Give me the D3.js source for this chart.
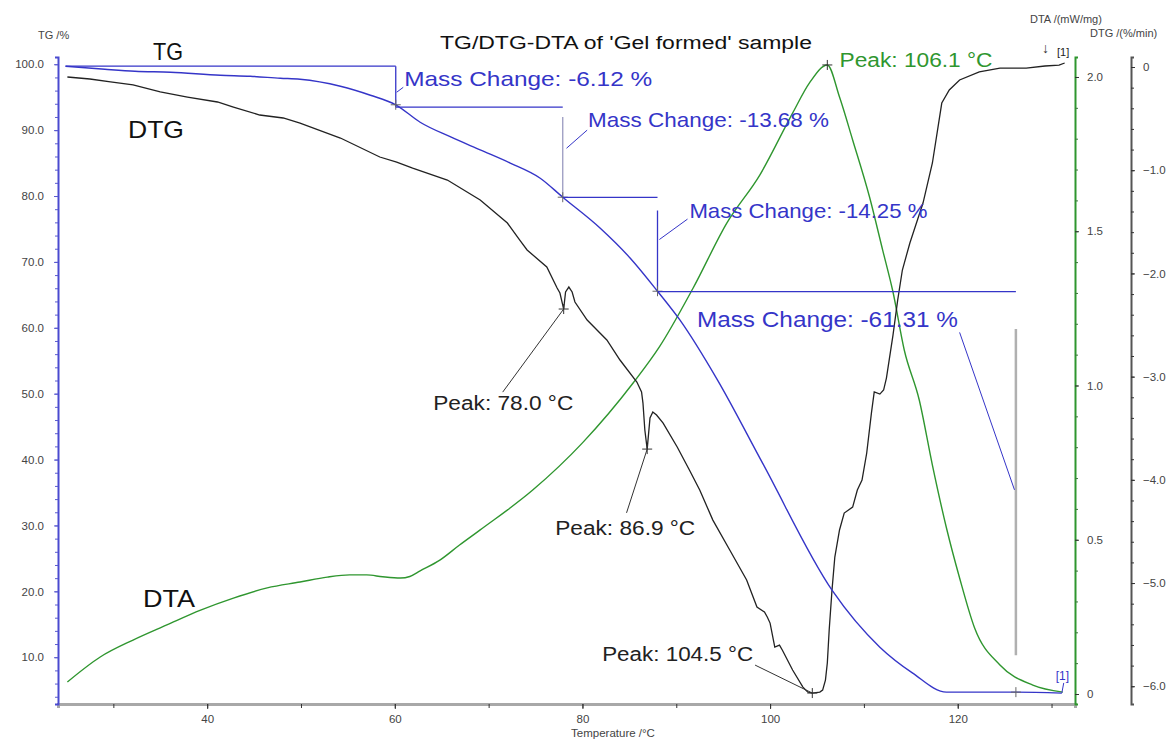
<!DOCTYPE html>
<html><head><meta charset="utf-8">
<script src="https://cdn.jsdelivr.net/npm/d3@7"></script>
<style>
body{margin:0;background:#fff;}
svg{display:block;font-family:"Liberation Sans",Arial,sans-serif;}
</style>
</head><body>
<svg id="c" width="1174" height="742"></svg>
<script>
// ---------------- DATA ----------------
const tgTemp  = [24.9, 29.1, 32.3, 36.1, 41.4, 44.6, 47.8, 49.9, 54.2, 57.4, 60.1, 62.7, 65.9, 69.1, 72.3, 75.5, 77.9, 81.9, 85.1, 88.0, 90.4, 94.4, 99.2, 106.6, 111.7, 115.2, 118.8, 126.1, 131.1];
const tgValue = [99.70, 99.24, 98.94, 98.79, 98.33, 98.18, 97.88, 97.72, 96.66, 95.30, 93.85, 91.20, 89.00, 87.00, 85.00, 82.70, 79.82, 75.11, 70.56, 65.55, 61.15, 52.05, 39.45, 20.18, 11.53, 7.59, 4.70, 4.70, 4.55];

const dtgTemp  = [25.1, 27.5, 29.7, 32.1, 35.0, 37.9, 41.1, 42.8, 45.6, 48.1, 49.9, 54.2, 58.4, 60.2, 61.9, 65.6, 69.1, 72.0, 73.3, 74.1, 76.2, 77.3, 77.6, 78.0, 78.2, 78.55, 78.9, 79.2, 80.5, 82.6, 84.0, 85.8, 86.3, 86.45, 86.65, 86.9, 87.2, 87.5, 87.9, 88.6, 90.1, 91.4, 92.5, 93.9, 95.7, 97.5, 98.6, 99.4, 99.7, 100.0, 100.5, 101.0, 101.3, 102.4, 103.5, 104.0, 104.5, 105.3, 105.6, 105.9, 106.1, 106.3, 106.6, 106.9, 107.4, 107.9, 108.8, 109.3, 109.8, 110.3, 110.8, 111.1, 111.7, 112.1, 112.4, 113.1, 113.6, 114.1, 114.9, 116.3, 117.3, 118.3, 119.1, 120.2, 122.3, 124.5, 127.3, 129.3, 130.8, 131.4];
const dtgValue = [-0.097, -0.116, -0.145, -0.174, -0.242, -0.291, -0.339, -0.388, -0.465, -0.494, -0.543, -0.688, -0.872, -0.921, -0.979, -1.095, -1.289, -1.512, -1.676, -1.773, -1.938, -2.141, -2.190, -2.345, -2.180, -2.132, -2.180, -2.277, -2.452, -2.645, -2.839, -3.052, -3.149, -3.256, -3.517, -3.702, -3.401, -3.343, -3.372, -3.450, -3.682, -3.905, -4.099, -4.390, -4.680, -4.971, -5.233, -5.281, -5.329, -5.388, -5.620, -5.601, -5.649, -5.843, -6.008, -6.056, -6.066, -6.056, -6.037, -5.940, -5.775, -5.455, -5.068, -4.748, -4.486, -4.322, -4.264, -4.099, -4.002, -3.740, -3.353, -3.149, -3.169, -3.130, -3.014, -2.597, -2.258, -1.967, -1.705, -1.318, -0.930, -0.349, -0.223, -0.126, -0.048, -0.010, -0.010, 0.010, 0.019, 0.039];

const dtaTemp  = [25.1, 28.6, 32.1, 35.7, 39.3, 42.8, 46.4, 49.9, 52.8, 55.2, 57.0, 58.7, 60.6, 61.6, 62.7, 64.8, 66.9, 69.1, 74.7, 80.0, 85.4, 88.2, 91.8, 95.4, 98.9, 102.4, 104.2, 106.1, 107.4, 108.8, 110.6, 112.0, 113.1, 114.3, 115.9, 117.3, 118.8, 120.2, 121.8, 124.5, 128.0, 131.2];
const dtaValue = [0.039, 0.120, 0.175, 0.224, 0.272, 0.311, 0.344, 0.363, 0.379, 0.386, 0.386, 0.380, 0.376, 0.381, 0.399, 0.434, 0.483, 0.532, 0.661, 0.814, 1.008, 1.125, 1.316, 1.527, 1.682, 1.883, 1.981, 2.039, 1.935, 1.796, 1.611, 1.439, 1.303, 1.115, 0.953, 0.742, 0.538, 0.376, 0.214, 0.094, 0.029, 0.006];

const xMajorTicks = [40, 60, 80, 100, 120];
const tgMajorTicks = [10, 20, 30, 40, 50, 60, 70, 80, 90, 100];
const dtaMajorTicks = [0, 0.5, 1.0, 1.5, 2.0];
const dtgMajorTicks = [0, -1, -2, -3, -4, -5, -6];

// mass-change step annotations (TG units)
const massLabels     = ["Mass Change: -6.12 %", "Mass Change: -13.68 %", "Mass Change: -14.25 %", "Mass Change: -61.31 %"];
const massStepStartT = [24.9, 60.1, 77.9, 88.0];
const massStepT      = [60.1, 77.9, 88.0, 126.2];
const massLevel      = [99.7, 93.5, 79.8, 65.5];
const massVertTop    = [99.7, 92.0, 77.8, 59.8];
const massVertBottom = [93.5, 79.8, 65.5, 10.3];
const massPointTG    = [93.85, 79.82, 65.55, 4.70];
const massLabelT     = [61.0, 80.6, 91.4, 92.2];
const massLabelTG    = [96.7, 90.4, 76.6, 60.1];
const massLeadFromT  = [60.2, 78.3, 88.2, 120.2];
const massLeadFromTG = [95.75, 87.25, 73.4, 59.3];
const massLeadToT    = [60.9, 80.5, 91.2, 126.05];
const massLeadToTG   = [96.5, 90.0, 76.5, 35.4];

// DTG peak annotations
const peakLabels   = ["Peak: 78.0 °C", "Peak: 86.9 °C", "Peak: 104.5 °C"];
const peakT        = [78.0, 86.9, 104.5];
const peakDTG      = [-2.345, -3.702, -6.066];
const peakLabelT   = [64.1, 77.1, 82.1];
const peakLabelDTG = [-3.32, -4.535, -5.756];
const peakLeadT    = [71.5, 84.7, 98.4];
const peakLeadDTG  = [-3.15, -4.32, -5.795];

// DTA peak
const dtaPeakLabel = "Peak: 106.1 °C";
const dtaPeakT = 106.1, dtaPeakValue = 2.039, dtaPeakLabelT = 107.4;

// ---------------- CHART ----------------
const svg = d3.select("#c");
const BLUE = "#3535c8", GREEN = "#2f962f", DARK = "#222";

const x     = d3.scaleLinear().domain([24.1, 132.5]).range([58, 1075]);
const yTG   = d3.scaleLinear().domain([2.9, 101.1]).range([704, 57]);
const yDTA  = d3.scaleLinear().domain([-0.0324, 2.0648]).range([704, 57]);
const yDTG  = d3.scaleLinear().domain([-6.172, 0.097]).range([704, 57]);

function txt(g, px, py, s, size, color, width, anchor) {
  const t = g.append("text").attr("x", px).attr("y", py).text(s)
    .attr("font-size", size).attr("fill", color);
  if (anchor) t.attr("text-anchor", anchor);
  if (width) t.attr("textLength", width).attr("lengthAdjust", "spacingAndGlyphs");
  return t;
}
function cross(px, py, color) {
  svg.append("path").attr("d", `M${px-5},${py}H${px+5}M${px},${py-5}V${py+5}`)
    .attr("stroke", color).attr("stroke-width", 1);
}

function styleAxis(g, lineColor, lineW, textColor) {
  g.select(".domain").attr("stroke", lineColor).attr("stroke-width", lineW);
  g.selectAll(".tick line").attr("stroke", "#333");
  g.selectAll("text").attr("fill", textColor).attr("font-size", 11.5).attr("font-family", "Liberation Sans, Arial, sans-serif");
}
// bottom
const gxMinor = svg.append("g").attr("transform", "translate(0,704)")
  .call(d3.axisBottom(x).tickValues(d3.range(30, 131, 10)).tickSize(4).tickFormat(""));
styleAxis(gxMinor, "#a8a8a8", 3, "#444");
const gx = svg.append("g").attr("transform", "translate(0,704)")
  .call(d3.axisBottom(x).tickValues(xMajorTicks).tickSize(5).tickPadding(6).tickFormat(d3.format("d")));
styleAxis(gx, "none", 0, "#444");
gx.select(".domain").remove();

// left TG
const gyMinor = svg.append("g").attr("transform", "translate(58,0)")
  .call(d3.axisLeft(yTG).tickValues(d3.range(4, 101, 2)).tickSize(3).tickFormat(""));
styleAxis(gyMinor, "#4a4ad0", 2, "#444");
gyMinor.selectAll(".tick line").attr("stroke", "#5a5ad0");
const gy = svg.append("g").attr("transform", "translate(58,0)")
  .call(d3.axisLeft(yTG).tickValues(tgMajorTicks).tickSize(4).tickPadding(10).tickFormat(d3.format(".1f")));
styleAxis(gy, "none", 0, "#444");
gy.select(".domain").remove();
gy.selectAll(".tick line").attr("stroke", "#5a5ad0");

// right DTA
const gaMinor = svg.append("g").attr("transform", "translate(1075,0)")
  .call(d3.axisRight(yDTA).tickValues(d3.range(0, 20.5, 1).map(d => d / 10)).tickSize(3).tickFormat(""));
styleAxis(gaMinor, GREEN, 2, "#444");
gaMinor.selectAll(".tick line").attr("stroke", "#3a7a3a");
const ga = svg.append("g").attr("transform", "translate(1075,0)")
  .call(d3.axisRight(yDTA).tickValues(dtaMajorTicks).tickSize(4).tickPadding(8).tickFormat(d => d === 0 ? "0" : d3.format(".1f")(d)));
styleAxis(ga, "none", 0, "#444");
ga.select(".domain").remove();

// right DTG
const gdMinor = svg.append("g").attr("transform", "translate(1131,0)")
  .call(d3.axisRight(yDTG).tickValues(d3.range(0, 31, 1).map(d => -d / 5)).tickSize(3).tickFormat(""));
styleAxis(gdMinor, "#555", 2, "#444");
const gd = svg.append("g").attr("transform", "translate(1131,0)")
  .call(d3.axisRight(yDTG).tickValues(dtgMajorTicks).tickSize(4).tickPadding(8).tickFormat(d => d === 0 ? "0" : d3.format(".1f")(d)));
styleAxis(gd, "none", 0, "#444");
gd.select(".domain").remove();

// axis titles
txt(svg, 38, 39, "TG /%", 11, "#444");
txt(svg, 1030, 23, "DTA /(mW/mg)", 11, "#444");
txt(svg, 1090, 37, "DTG /(%/min)", 11, "#444");
txt(svg, 1042, 53, "↓", 14, "#333");
txt(svg, 1057, 56, "[1]", 11, "#222");
txt(svg, 613, 737, "Temperature /°C", 11.5, "#444", null, "middle");

// title
txt(svg, 440, 49, "TG/DTG-DTA of 'Gel formed' sample", 18, "#111", 372);

// curves
const lineDTA = d3.line().x((d, i) => x(dtaTemp[i])).y(d => yDTA(d)).curve(d3.curveMonotoneX);
svg.append("path").datum(dtaValue).attr("d", lineDTA).attr("fill", "none").attr("stroke", GREEN).attr("stroke-width", 1.4);

const lineDTG = d3.line().x((d, i) => x(dtgTemp[i])).y(d => yDTG(d));
svg.append("path").datum(dtgValue).attr("d", lineDTG).attr("fill", "none").attr("stroke", DARK).attr("stroke-width", 1.3);

const lineTG = d3.line().x((d, i) => x(tgTemp[i])).y(d => yTG(d)).curve(d3.curveMonotoneX);
svg.append("path").datum(tgValue).attr("d", lineTG).attr("fill", "none").attr("stroke", BLUE).attr("stroke-width", 1.4);

// curve labels
txt(svg, 153, 60, "TG", 24, "#111", 30);
txt(svg, 128, 138, "DTG", 24, "#111", 56);
txt(svg, 143, 607, "DTA", 24, "#111", 52);

// mass change annotations
const vertColors = [BLUE, "#9a9ac0", BLUE, "#b0b0b0"];
const massWidths = [248, 241, 238, 261];
const massSizes = [21, 21, 21, 22];
massLabels.forEach((lab, i) => {
  svg.append("line").attr("x1", x(massStepStartT[i])).attr("x2", x(massStepT[i]))
    .attr("y1", yTG(massLevel[i])).attr("y2", yTG(massLevel[i])).attr("stroke", BLUE).attr("stroke-width", 1.3);
  svg.append("line").attr("x1", x(massStepT[i])).attr("x2", x(massStepT[i]))
    .attr("y1", yTG(massVertTop[i])).attr("y2", yTG(massVertBottom[i]))
    .attr("stroke", vertColors[i]).attr("stroke-width", i === 3 ? 2.5 : 1.3);
  svg.append("line").attr("x1", x(massLeadFromT[i])).attr("y1", yTG(massLeadFromTG[i]))
    .attr("x2", x(massLeadToT[i])).attr("y2", yTG(massLeadToTG[i])).attr("stroke", BLUE).attr("stroke-width", 1);
  cross(x(massStepT[i]), yTG(massPointTG[i]), "#666");
  txt(svg, x(massLabelT[i]), yTG(massLabelTG[i]), lab, massSizes[i], BLUE, massWidths[i]);
});
// end marker [1]
txt(svg, x(130.45), yTG(6.5), "[1]", 12, BLUE);
svg.append("line").attr("x1", x(131.3)).attr("y1", yTG(6.1)).attr("x2", x(131.1)).attr("y2", yTG(4.6)).attr("stroke", BLUE);

// peak annotations
const peakWidths = [140, 140, 151];
peakLabels.forEach((lab, i) => {
  cross(x(peakT[i]), yDTG(peakDTG[i]), "#333");
  svg.append("line").attr("x1", x(peakT[i])).attr("y1", yDTG(peakDTG[i]))
    .attr("x2", x(peakLeadT[i])).attr("y2", yDTG(peakLeadDTG[i])).attr("stroke", "#333").attr("stroke-width", 1);
  txt(svg, x(peakLabelT[i]), yDTG(peakLabelDTG[i]), lab, 20, "#222", peakWidths[i]);
});
cross(x(dtaPeakT), yDTA(dtaPeakValue), "#333");
txt(svg, x(dtaPeakLabelT), yDTA(dtaPeakValue) + 2, dtaPeakLabel, 20, GREEN, 153);
</script>
</body></html>
